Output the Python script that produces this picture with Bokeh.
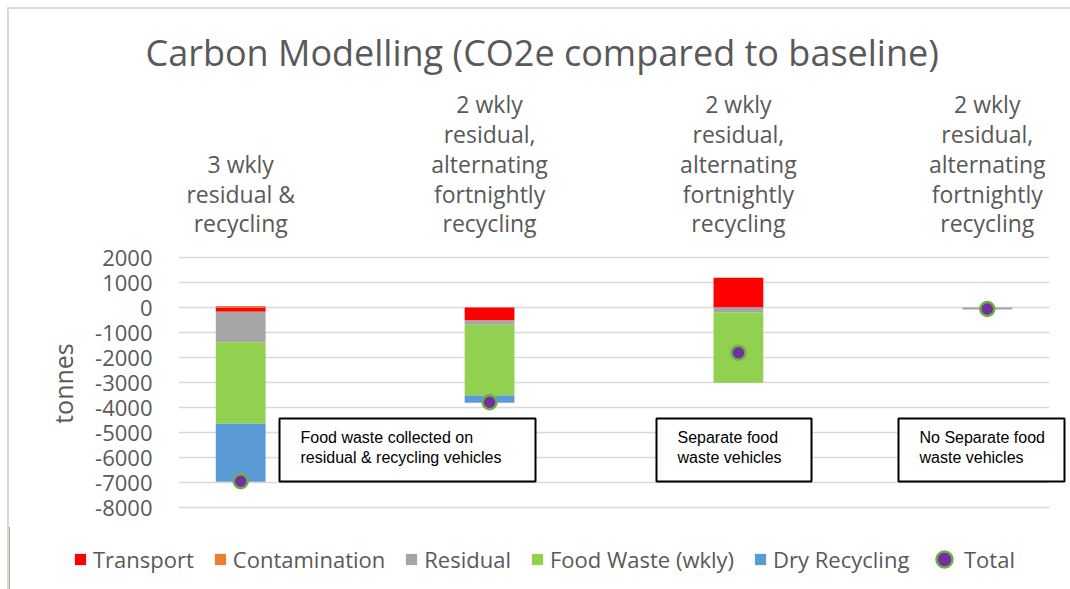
from bokeh.plotting import figure
from bokeh.layouts import column
from bokeh.models import (Range1d, Legend, LegendItem, Label, BoxAnnotation,
                          FixedTicker, NumeralTickFormatter)
from bokeh.embed import file_html
from bokeh.resources import INLINE

# ---------------- data ----------------
categories = [
    "3 wkly\nresidual &\nrecycling",
    "2 wkly\nresidual,\nalternating\nfortnightly\nrecycling",
    "2 wkly\nresidual,\nalternating\nfortnightly\nrecycling",
    "2 wkly\nresidual,\nalternating\nfortnightly\nrecycling",
]
series_names = ["Transport", "Contamination", "Residual", "Food Waste (wkly)", "Dry Recycling"]
transport = [-170, -520, 1190, 0]
contamination = [60, 0, 0, 0]
residual = [-1220, -170, -190, -80]
food_waste = [-3260, -2830, -2820, 0]
dry_recycling = [-2320, -290, 0, 0]
total = [-6950, -3790, -1810, -60]
y_ticks = [2000, 1000, 0, -1000, -2000, -3000, -4000, -5000, -6000, -7000, -8000]
notes = ["Food waste collected on\nresidual & recycling vehicles",
         "Separate food\nwaste vehicles",
         "No Separate food\nwaste vehicles"]
title_text = "Carbon Modelling (CO2e compared to baseline)"

colors = ["#FF0000", "#ED7D31", "#A5A5A5", "#92D050", "#5B9BD5"]
TOTAL_FILL, TOTAL_LINE = "#7030A0", "#70AD47"
GREY = "#595959"
FONT = "Open Sans"

# ---------------- layout constants (page pixels) ----------------
OX, OY = 9, 9                 # canvas origin on page (7px margin + 2px border)
FRAME_LEFT = 178
GRID_RIGHT = 1049
FRAME_TOP = 240
FRAME_BOTTOM = 526
ZERO_PY = 307
PX_PER_UNIT = 871 / 3.5       # x spacing of categories
PX_PER_1000 = 25.0
W = 1070 - OX
H_TOP = FRAME_TOP - OY
H_MAIN = FRAME_BOTTOM - FRAME_TOP
H_LEG = 589 - FRAME_BOTTOM

X0 = 1 - (240.2 - FRAME_LEFT) / PX_PER_UNIT
X1 = X0 + (OX + W - FRAME_LEFT) / PX_PER_UNIT
Y1 = (ZERO_PY - FRAME_TOP) * 1000 / PX_PER_1000
Y0 = -(FRAME_BOTTOM - ZERO_PY) * 1000 / PX_PER_1000

def px_x(px):
    return X0 + (px - FRAME_LEFT) / PX_PER_UNIT

def px_y(py):
    return (ZERO_PY - py) * 1000 / PX_PER_1000

def bare(fig):
    fig.frame_align = False
    fig.outline_line_color = None
    fig.xgrid.visible = False
    fig.ygrid.visible = False
    return fig

# ---------------- header: title + category labels ----------------
t = bare(figure(width=W, height=H_TOP, output_backend="svg", toolbar_location=None,
                x_range=Range1d(px_x(OX), X1), y_range=Range1d(FRAME_TOP, OY),
                x_axis_location=None, y_axis_location=None,
                min_border_left=0, min_border_right=0, min_border_top=0, min_border_bottom=0,
                background_fill_color="white", border_fill_color="white"))
t.add_layout(Label(x=px_x(145), y=76, text=title_text, text_align="left",
                   text_baseline="bottom", text_font=FONT, text_font_size="36px",
                   text_color=GREY))
xs = [1, 2, 3, 4]
for x, lab in zip(xs, categories):
    t.add_layout(Label(x=x, y=239, text=lab, text_align="center",
                       text_baseline="bottom", text_font=FONT,
                       text_font_size="23px", text_color=GREY,
                       text_line_height=0.93))

# ---------------- main plot ----------------
p = bare(figure(width=W, height=H_MAIN, output_backend="svg", toolbar_location=None,
                x_range=Range1d(X0, X1), y_range=Range1d(Y0, Y1),
                x_axis_location=None,
                min_border_left=FRAME_LEFT - OX, min_border_right=0,
                min_border_top=0, min_border_bottom=0,
                background_fill_color="white", border_fill_color="white"))

ax = p.yaxis[0]
ax.ticker = FixedTicker(ticks=y_ticks)
ax.formatter = NumeralTickFormatter(format="0")
ax.axis_line_color = None
ax.major_tick_line_color = None
ax.minor_tick_line_color = None
ax.major_tick_out = 0
ax.major_tick_in = 0
ax.major_label_standoff = 26
ax.major_label_text_font = FONT
ax.major_label_text_font_size = "22px"
ax.major_label_text_color = GREY
ax.axis_label = "tonnes"
ax.axis_label_text_font = FONT
ax.axis_label_text_font_size = "25px"
ax.axis_label_text_font_style = "normal"
ax.axis_label_text_color = GREY
ax.axis_label_standoff = 12

# gridlines (only across the plot area, like the original)
p.segment(x0=[X0] * len(y_ticks), x1=[px_x(GRID_RIGHT)] * len(y_ticks),
          y0=y_ticks, y1=y_ticks, line_color="#D9D9D9", line_width=1.5)

# stacked bars (Excel-style +/- stacking)
data = [transport, contamination, residual, food_waste, dry_recycling]
pos = [0.0] * 4
neg = [0.0] * 4
for vals, col in zip(data, colors):
    bottoms, tops = [], []
    for i, v in enumerate(vals):
        if v >= 0:
            bottoms.append(pos[i]); tops.append(pos[i] + v); pos[i] += v
        else:
            bottoms.append(neg[i]); tops.append(neg[i] + v); neg[i] += v
    p.vbar(x=xs, bottom=bottoms, top=tops, width=0.2, fill_color=col, line_color=None)

p.scatter(x=xs, y=total, size=14, fill_color=TOTAL_FILL, line_color=TOTAL_LINE, line_width=2.5)

# annotation boxes
boxes = [(279, 535), (656, 811), (898, 1064)]
for (l, r_), note in zip(boxes, notes):
    p.add_layout(BoxAnnotation(left=px_x(l), right=px_x(r_), top=px_y(418), bottom=px_y(481),
                               fill_color="white", fill_alpha=1.0,
                               line_color="black", line_alpha=1.0, line_width=2))
    p.add_layout(Label(x=px_x(l + 21), y=px_y(428), text=note, text_align="left",
                       text_baseline="top", text_font="Liberation Sans",
                       text_font_size="16px", text_color="black",
                       text_line_height=1.2))

# ---------------- legend strip ----------------
q = bare(figure(width=W, height=H_LEG, output_backend="svg", toolbar_location=None,
                x_range=Range1d(0, 1), y_range=Range1d(0, 1),
                x_axis_location=None, y_axis_location=None,
                min_border_left=0, min_border_right=0, min_border_top=0, min_border_bottom=0,
                background_fill_color="white", border_fill_color="white"))
# off-range placeholder glyphs: they only provide the legend keys
leg_bars = [q.vbar(x=[-10], top=[1], width=0.1, fill_color=c, line_color=None) for c in colors]
leg_tot = q.scatter(x=[-10], y=[0], size=14, fill_color=TOTAL_FILL, line_color=TOTAL_LINE, line_width=2.5)

common = dict(orientation="horizontal", label_text_font=FONT, label_text_font_size="22px",
              label_text_color=GREY, padding=0, margin=0, border_line_color=None,
              background_fill_alpha=0)
leg1 = Legend(items=[LegendItem(label=n, renderers=[r]) for n, r in zip(series_names, leg_bars)],
              location=(73 - OX, 15), glyph_width=14, glyph_height=14,
              label_standoff=6, spacing=19, **common)
leg2 = Legend(items=[LegendItem(label="Total", renderers=[leg_tot])],
              location=(924 - OX, 10), glyph_width=40, glyph_height=40,
              label_standoff=-12, spacing=0, **common)
q.add_layout(leg1)
q.add_layout(leg2)

layout = column(t, p, q, spacing=0,
                styles={"margin-left": "7px", "margin-top": "7px",
                        "border-left": "2px solid #D9D9D9", "border-top": "2px solid #D9D9D9"})

open("out.html", "w").write(file_html(layout, INLINE))
